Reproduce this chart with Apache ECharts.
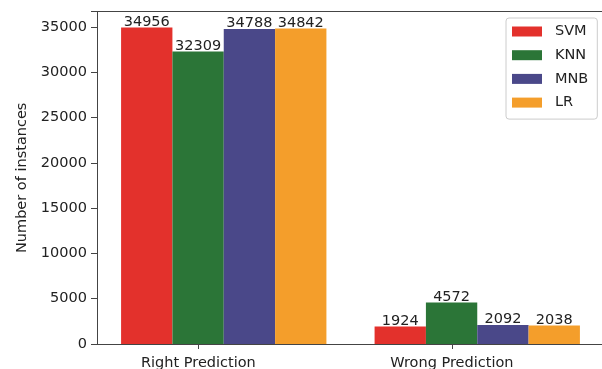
<!DOCTYPE html>
<html>
<head>
<meta charset="utf-8">
<script src="https://cdn.jsdelivr.net/npm/echarts@6/dist/echarts.min.js"></script>
<style>
html,body{margin:0;padding:0;background:#fff;}
#c{width:602px;height:369px;}
</style>
</head>
<body>
<div id="c"></div>
<script>
const categories = ['Right Prediction', 'Wrong Prediction'];
const seriesNames = ['SVM', 'KNN', 'MNB', 'LR'];
const svm = [34956, 1924];
const knn = [32309, 4572];
const mnb = [34788, 2092];
const lr = [34842, 2038];
const yTicks = [0, 5000, 10000, 15000, 20000, 25000, 30000, 35000];

const colors = ['#e3312c', '#2b7537', '#4a4889', '#f49e2b'];
const values = [svm, knn, mnb, lr];
const FONT = 'DejaVu Sans';
const FS = 14.5;

// tick marks sit under the second bar of each group (matplotlib-style offset)
const tickOffset = -0.1;
const tickVals = categories.map((_, i) => i + tickOffset);

const chart = echarts.init(document.getElementById('c'), null, {renderer: 'canvas'});
chart.setOption({
  animation: false,
  backgroundColor: '#ffffff',
  color: colors,
  grid: {
    left: 97, right: -2, top: 11.6, bottom: 25,
    outerBoundsMode: 'none',
    containLabel: false,
    show: false
  },
  legend: {
    orient: 'vertical',
    left: 506, top: 18,
    data: seriesNames,
    icon: 'rect',
    itemWidth: 30, itemHeight: 10,
    itemGap: 8.7,
    padding: [6, 9, 9, 6],
    borderColor: '#cccccc', borderWidth: 1, borderRadius: 3,
    backgroundColor: '#ffffff',
    textStyle: {fontFamily: FONT, fontSize: FS, color: '#222', lineHeight: 14, padding: [0, 0, 0, 8]}
  },
  xAxis: [
    {
      type: 'category',
      data: categories,
      position: 'bottom',
      axisLine: {show: true, onZero: false, lineStyle: {color: '#444'}},
      axisTick: {show: false},
      axisLabel: {show: false},
      splitLine: {show: false}
    },
    {
      type: 'value',
      gridIndex: 0,
      position: 'bottom',
      min: -0.5, max: categories.length - 0.5,
      axisLine: {show: false, onZero: false},
      splitLine: {show: false},
      axisTick: {show: true, customValues: tickVals, length: 5, lineStyle: {color: '#444'}},
      axisLabel: {
        show: true, customValues: tickVals, margin: 12,
        fontFamily: FONT, fontSize: FS, color: '#222',
        formatter: v => categories[Math.round(v - tickOffset)]
      }
    },
    {
      type: 'category',
      data: categories,
      position: 'top',
      axisLine: {show: true, onZero: false, lineStyle: {color: '#444'}},
      axisTick: {show: false},
      axisLabel: {show: false},
      splitLine: {show: false}
    }
  ],
  yAxis: {
    type: 'value',
    min: 0, max: 36704, interval: 5000,
    name: 'Number of instances',
    nameLocation: 'middle',
    nameGap: 65,
    nameTextStyle: {fontFamily: FONT, fontSize: FS, color: '#222'},
    axisLine: {show: true, onZero: false, lineStyle: {color: '#444'}},
    axisTick: {show: true, inside: false, length: 6, lineStyle: {color: '#444'}},
    axisLabel: {
      margin: 10, fontFamily: FONT, fontSize: FS, color: '#222',
      formatter: v => (yTicks.indexOf(v) >= 0 ? String(v) : '')
    },
    splitLine: {show: false}
  },
  series: seriesNames.map((name, k) => ({
    name: name,
    type: 'bar',
    xAxisIndex: 0,
    data: values[k],
    barGap: '0%',
    barCategoryGap: '19%',
    itemStyle: {color: colors[k]},
    label: {
      show: true, position: 'top', distance: -2,
      fontFamily: FONT, fontSize: FS, color: '#222'
    }
  }))
});
</script>
</body>
</html>
